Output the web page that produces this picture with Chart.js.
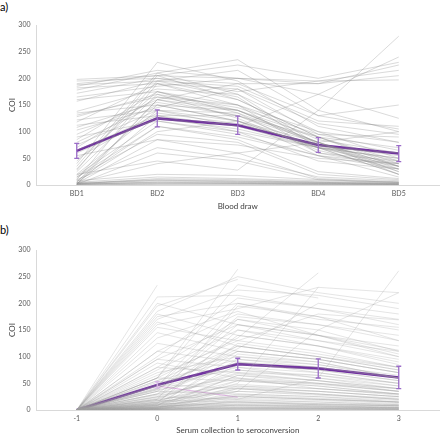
<!DOCTYPE html>
<html>
<head>
<meta charset="utf-8">
<script src="https://cdn.jsdelivr.net/npm/chart.js@4"></script>
<style>
  html,body{margin:0;padding:0;background:#fff;}
  body{width:440px;height:435px;position:relative;overflow:hidden;font-family:Lato, "Open Sans", sans-serif;}
  .panel{position:absolute;left:0;width:440px;}
  .lab{position:absolute;left:0;font-size:11px;color:#000;line-height:12px;}
</style>
</head>
<body>
<div class="lab" style="top:1px;">a)</div>
<div class="lab" style="top:224px;">b)</div>
<div class="panel" style="top:0;height:215px;"><canvas id="ca" width="440" height="215"></canvas></div>
<div class="panel" style="top:215px;height:220px;"><canvas id="cb" width="440" height="220"></canvas></div>
<script>
// ---------- Panel a ----------
const categoriesA = ["BD1", "BD2", "BD3", "BD4", "BD5"];
const meanA = [64, 125, 112, 75, 59];
const errA = [14, 16, 17, 14, 15];
const subjectsA = [
  [198, 205, 200, 190, 205], [195, 200, 175, 195, 215], [190, 205, 225, 200, 230],
  [188, 195, 185, 120, 110], [185, 215, 200, 170, 125], [182, 190, 160, 90, 70],
  [178, 210, 235, 140, 100], [172, 200, 190, 130, 150], [165, 185, 200, 195, 197],
  [160, 175, 150, 85, 60], [157, 195, 215, 130, 105], [138, 180, 170, 100, 80],
  [135, 150, 140, 90, 45], [131, 165, 150, 100, 50], [128, 170, 145, 95, 90],
  [122, 140, 135, 80, 35], [118, 190, 180, 95, 65], [112, 130, 130, 70, 50],
  [108, 155, 130, 90, 40], [103, 145, 180, 115, 95], [95, 160, 140, 75, 55],
  [90, 120, 100, 70, 60], [85, 175, 135, 60, 45], [80, 150, 120, 55, 40],
  [75, 140, 120, 80, 30], [70, 165, 140, 80, 35], [65, 130, 100, 45, 30],
  [60, 125, 105, 70, 35], [55, 85, 75, 50, 40], [50, 135, 115, 75, 25],
  [45, 175, 140, 80, 25], [40, 230, 195, 110, 80], [35, 210, 170, 75, 45],
  [30, 195, 165, 70, 40], [28, 205, 160, 90, 35], [25, 170, 125, 65, 30],
  [20, 45, 28, 140, 279], [20, 140, 110, 70, 20], [18, 120, 95, 55, 15],
  [15, 110, 90, 55, 30], [15, 95, 80, 20, 10], [12, 150, 120, 70, 20],
  [10, 70, 50, 15, 8], [10, 190, 150, 60, 35], [8, 110, 85, 25, 12],
  [8, 20, 18, 10, 5], [6, 100, 120, 70, 50], [5, 15, 12, 8, 5],
  [5, 160, 130, 80, 20], [4, 10, 8, 5, 3], [4, 40, 60, 80, 100],
  [3, 8, 6, 4, 2], [3, 85, 60, 12, 6], [2, 5, 4, 3, 2],
  [2, 130, 110, 170, 240], [2, 12, 10, 6, 4], [1, 3, 3, 2, 1],
  [1, 60, 45, 10, 5], [1, 160, 190, 190, 225], [0, 2, 2, 1, 1],
  [0, 1, 1, 1, 0], [2, 4, 3, 2, 1], [1, 6, 5, 3, 2], [3, 9, 7, 5, 3]
];

// ---------- Panel b ----------
const categoriesB = ["-1", "0", "1", "2", "3"];
const meanB = [0, 47, 86, 78, 61];
const errB = [0, 6, 11, 18, 21];
const secondB = [null, 45, 24, null, null];
const subjectsB = [
  [0, 234, null, null, null], [0, 212, 215, 190, 170], [0, 200, 160, 130, 110],
  [0, 185, 250, 220, 200], [0, 180, 140, 120, 95], [0, 175, 200, 175, 150],
  [0, 165, 120, 100, 80], [0, 160, 190, 230, 220], [0, 110, 180, 160, 130],
  [0, 145, 110, 95, 70], [0, 100, 210, 190, 160], [0, 95, 160, 140, 120],
  [0, 125, 100, 85, 60], [0, 60, 264, null, null], [0, 80, 170, 150, 110],
  [0, 110, 90, 70, 50], [0, 75, 150, 120, 90], [0, 60, 135, 257, null],
  [0, 95, 80, 60, 40], [0, 65, 130, 110, 80], [0, 45, 175, 160, 140],
  [0, 80, 70, 55, 35], [0, 55, 120, 100, 75], [0, 70, 100, 90, 60],
  [0, 35, 160, 140, 100], [0, 60, 55, 45, 30], [0, 55, 95, 85, 65],
  [0, 30, 140, 120, 85], [0, 48, 40, 30, 20], [0, 45, 110, 95, 70],
  [0, 42, 80, 70, 50], [0, 20, 195, 175, 130], [0, 38, 60, 50, 35],
  [0, 35, 30, 25, 15], [0, 15, 125, 105, 80], [0, 30, 90, 80, 60],
  [0, 28, 45, 35, 25], [0, 25, 20, 15, 10], [0, 24, 70, 65, 45],
  [0, 12, 150, 130, 100], [0, 20, 35, 30, 20], [0, 18, 15, 10, 8],
  [0, 17, 55, 50, 40], [0, 8, 105, 90, 60], [0, 14, 25, 20, 15],
  [0, 12, 10, 8, 5], [0, 11, 50, 230, null], [0, 10, 40, 35, 25],
  [0, 9, 8, 6, 4], [0, 8, 85, 75, 55], [0, 7, 30, 25, 18],
  [0, 6, 5, 4, 3], [0, 5, 20, 60, 261], [0, 5, 65, 55, 40],
  [0, 4, 15, 12, 8], [0, 4, 3, 3, 2], [0, 3, 45, 40, 30],
  [0, 3, 12, 10, 7], [0, 2, 2, 2, 1], [0, 2, 25, 20, 15],
  [0, 1, 8, 6, 4], [0, 1, 1, 1, 1], [0, 0, 35, 150, 220],
  [0, 0, 5, 4, 3], [0, 170, 225, 215, 190], [0, 155, 130, 180, 169],
  [0, 135, 185, 140, 112], [0, 88, 60, 40, 30], [0, 40, 115, 200, 180],
  [0, 52, 75, 60, 45], [0, 195, 245, null, null], [0, 60, 235, 210, null],
  [0, 45, 200, 170, 155], [0, 38, 170, 140, 105], [0, 0, 10, 8, 5],
  [0, 1, 18, 15, 10], [0, 2, 40, 30, 22], [0, 3, 6, 5, 4],
  [0, 4, 55, 45, 30], [0, 5, 28, 22, 15], [0, 6, 14, 10, 8],
  [0, 8, 65, 50, 35], [0, 10, 22, 18, 12], [0, 12, 95, 80, 60],
  [0, 15, 35, 28, 20], [0, 18, 48, 40, 28], [0, 20, 75, 65, 50],
  [0, 25, 110, 95, 70], [0, 30, 58, 48, 35], [0, 2, 4, 3, 2],
  [0, 1, 3, 2, 2], [0, 0, 2, 2, 1], [0, 3, 9, 7, 5],
  [0, 6, 16, 12, 9], [0, 9, 26, 20, 14], [0, 14, 42, 35, 25],
  [0, 22, 68, 55, 40], [0, 35, 88, 75, 55], [0, 40, 120, 100, 75],
  [0, 0, 1, 1, 1]
];

const yTicks = [0, 50, 100, 150, 200, 250, 300];

const FONT = "Lato, 'Open Sans', sans-serif";
const TXT = '#595959';
const AXIS = '#d9d9d9';
const ERR = '#9b6cc8';
const ERR_FAINT = '#d7b8e6';

const errorBars = {
  id: 'errorBars',
  afterDatasetsDraw(chart, args, opts) {
    const ctx = chart.ctx;
    const ys = chart.scales.y, xs = chart.scales.x;
    ctx.save();
    ctx.lineWidth = opts.width;
    opts.mean.forEach((m, i) => {
      const e = opts.err[i];
      if (!e) return;
      ctx.strokeStyle = (opts.faint && opts.faint.includes(i)) ? ERR_FAINT : ERR;
      const x = xs.getPixelForValue(i);
      const y1 = ys.getPixelForValue(m + e);
      const y2 = ys.getPixelForValue(m - e);
      ctx.beginPath();
      ctx.moveTo(x, y1); ctx.lineTo(x, y2);
      ctx.moveTo(x - 2.5, y1); ctx.lineTo(x + 2.5, y1);
      ctx.moveTo(x - 2.5, y2); ctx.lineTo(x + 2.5, y2);
      ctx.stroke();
    });
    ctx.restore();
  }
};

function makeChart(id, cats, subjects, mean, err, extra, faint, xTitle, padTop, xH, titlePadBottom, grayColor) {
  const datasets = subjects.map(s => ({
    data: s, borderColor: grayColor, borderWidth: 0.9, pointRadius: 0, tension: 0, spanGaps: false
  }));
  if (extra) datasets.push({ data: extra, borderColor: 'rgba(225,170,230,0.9)', borderWidth: 1, pointRadius: 0 });
  datasets.push({ data: mean, borderColor: '#7030a0', borderWidth: 2.6, pointRadius: 0, tension: 0 });
  return new Chart(document.getElementById(id), {
    type: 'line',
    data: { labels: cats, datasets },
    plugins: [errorBars],
    options: {
      responsive: false, animation: false, devicePixelRatio: 1,
      layout: { padding: { top: padTop, left: 0, right: 1, bottom: 0 } },
      plugins: {
        legend: { display: false }, tooltip: { enabled: false },
        errorBars: { mean, err, faint, width: 1.3 }
      },
      scales: {
        x: {
          offset: true,
          grid: { display: false, drawTicks: false },
          border: { display: true, color: AXIS, width: 1 },
          ticks: { color: TXT, font: { family: FONT, size: 7 }, padding: 5, maxRotation: 0 },
          title: { display: true, text: xTitle, color: '#404040', font: { family: FONT, size: 8 }, padding: { top: 0, bottom: titlePadBottom } },
          afterFit: s => { s.height = xH; }
        },
        y: {
          min: 0, max: 300,
          afterBuildTicks: s => { s.ticks = yTicks.map(v => ({ value: v })); },
          grid: { display: false, drawTicks: false },
          border: { display: true, color: AXIS, width: 1 },
          ticks: { color: TXT, font: { family: FONT, size: 7 }, padding: 6 },
          title: { display: true, text: 'COI', color: '#404040', font: { family: FONT, size: 8 }, padding: { top: 8, bottom: 0 } },
          afterFit: s => { s.width = 36.5; }
        }
      }
    }
  });
}

makeChart('ca', categoriesA, subjectsA, meanA, errA, null, [], 'Blood draw', 25, 30, 3.5, 'rgba(140,140,140,0.36)');
makeChart('cb', categoriesB, subjectsB, meanB, errB, secondB, [1], 'Serum collection to seroconversion', 35, 25, 0, 'rgba(160,160,160,0.3)');
</script>
</body>
</html>
